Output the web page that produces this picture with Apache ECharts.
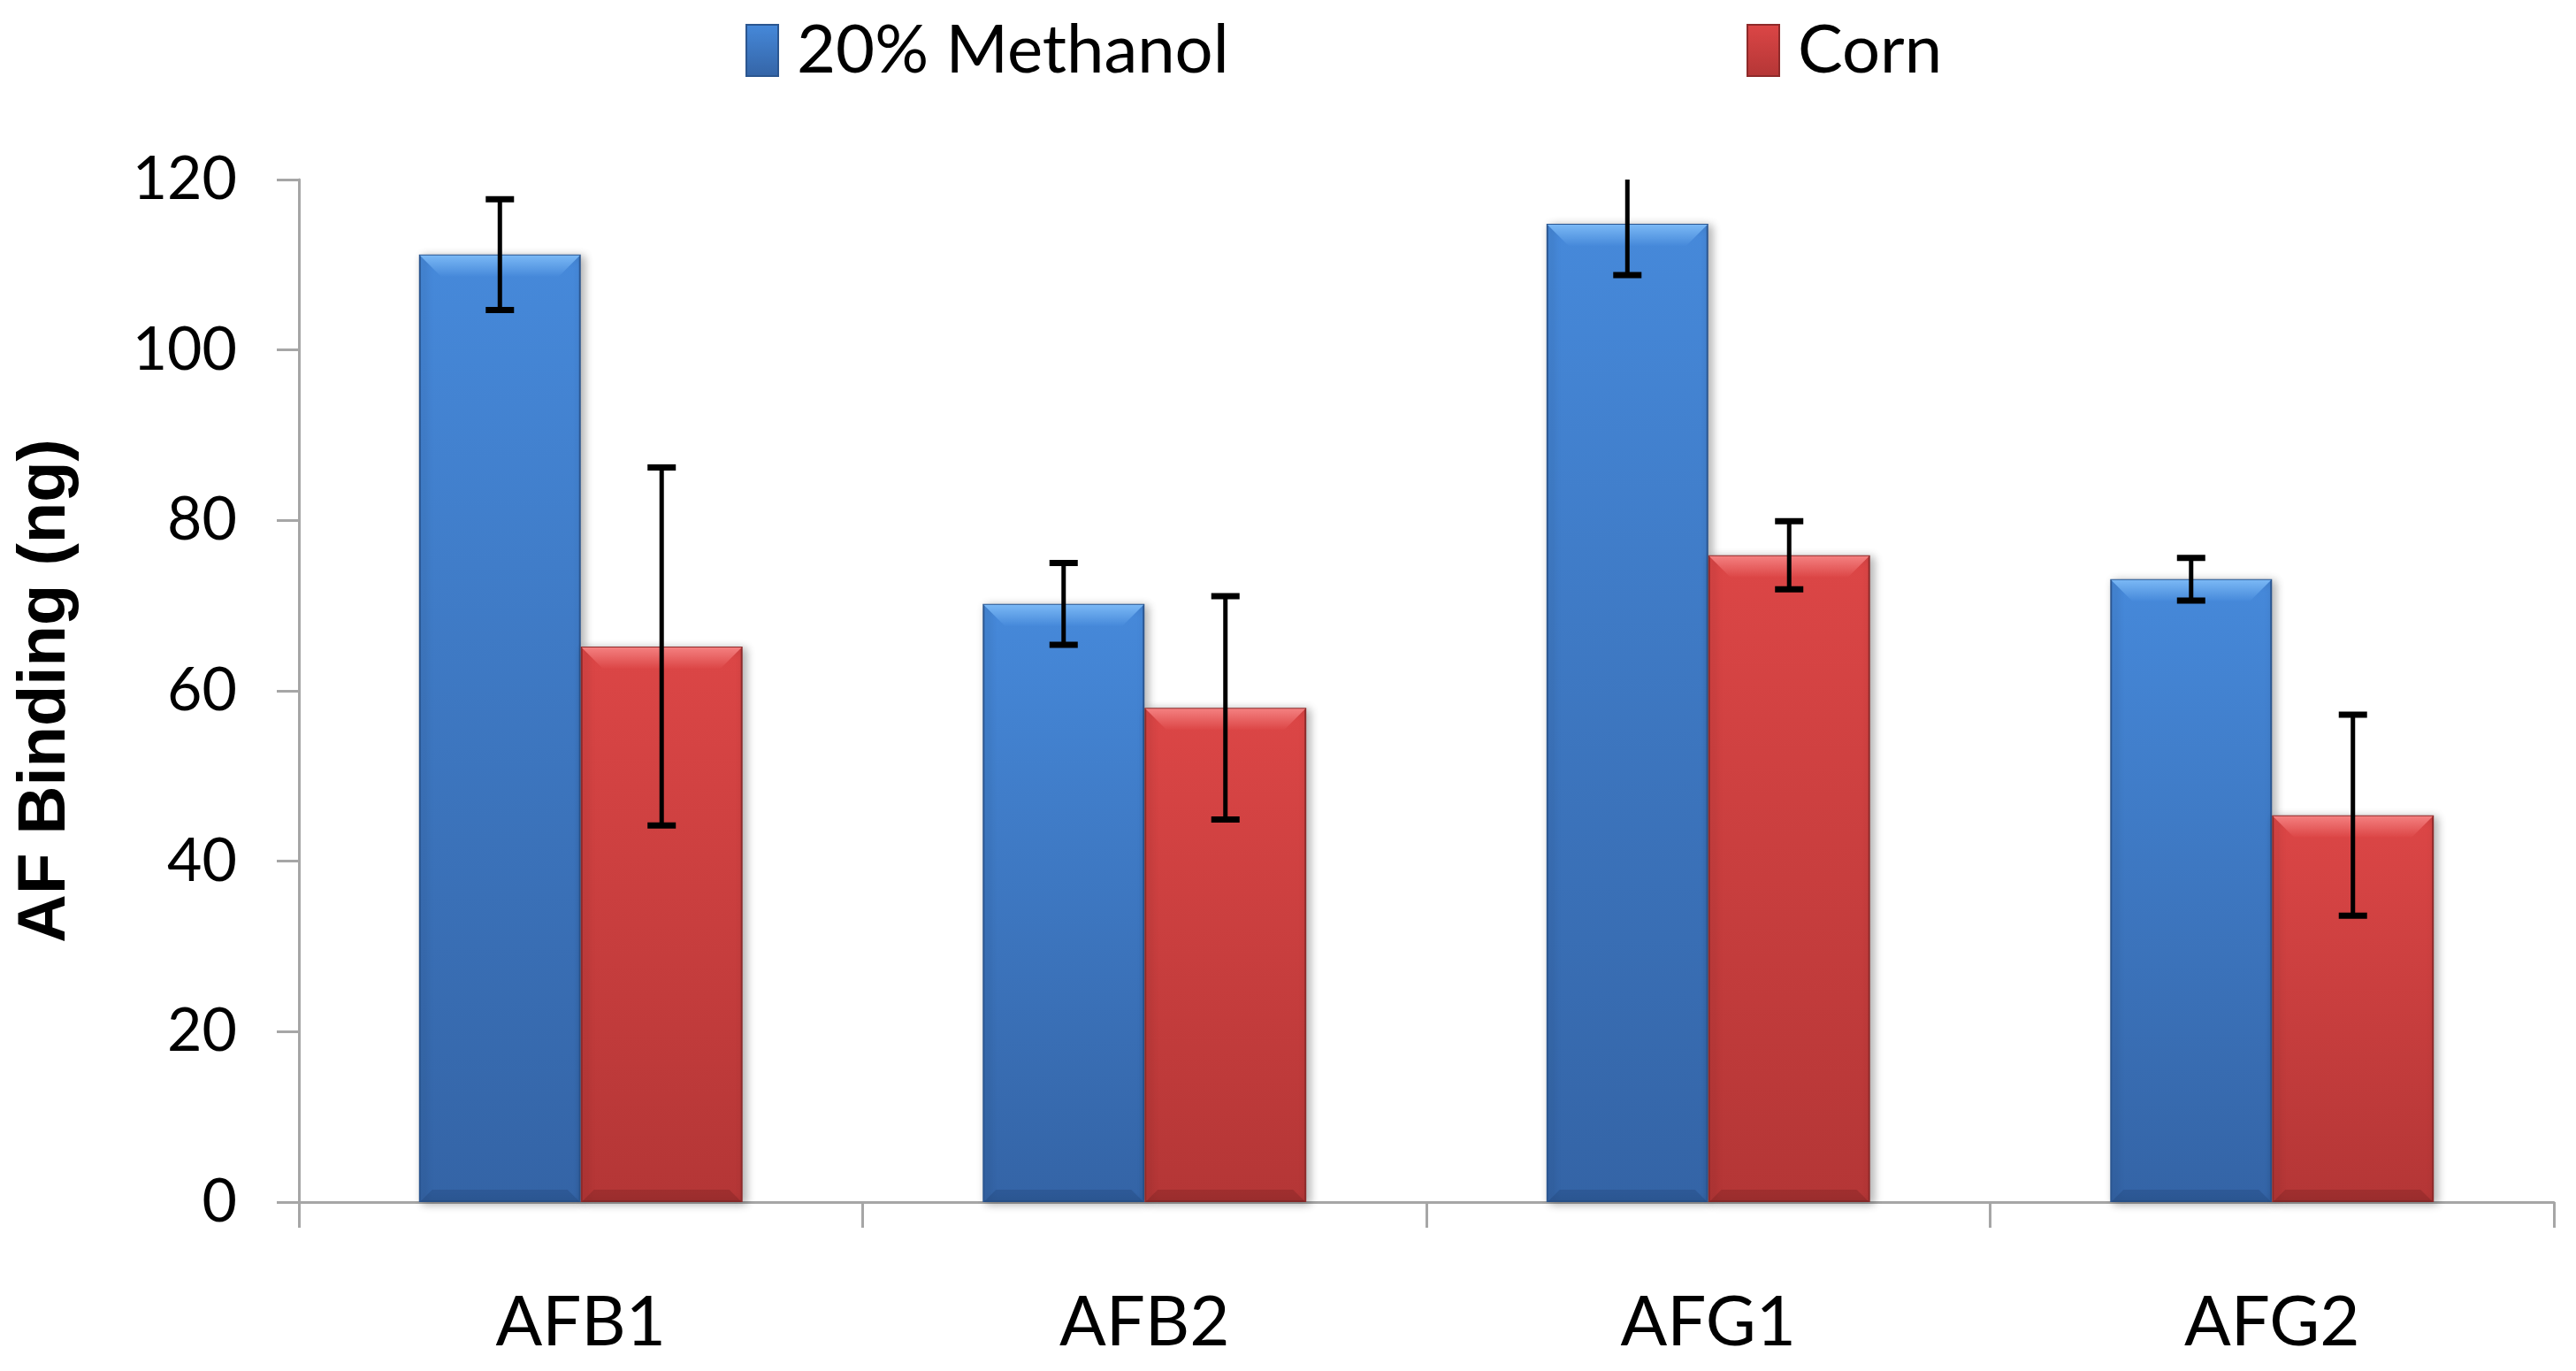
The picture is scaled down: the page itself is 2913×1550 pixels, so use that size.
<!DOCTYPE html>
<html>
<head>
<meta charset="UTF-8">
<title>AF Binding</title>
<style>
    html, body { margin: 0; padding: 0; background: #ffffff; }
    #main { width: 2913px; height: 1550px; }
</style>
</head>
<body>
<div id="main"></div>
<script src="https://cdn.jsdelivr.net/npm/echarts@6/dist/echarts.min.js"></script>
<script>
    // values
    var categories = ['AFB1', 'AFB2', 'AFG1', 'AFG2'];
    var methanol = [111.2, 70.2, 114.8, 73.1];
    var methanolErr = [6.5, 4.8, 6.0, 2.5];
    var corn = [65.2, 58.0, 75.9, 45.4];
    var cornErr = [21.0, 13.1, 4.0, 11.8];
    var yMin = 0, yMax = 120, yStep = 20;

    var catGap = 0.426;
    var G = echarts.graphic.LinearGradient;

    var blueFill = new G(0, 0, 0, 1, [
        { offset: 0, color: '#4689da' },
        { offset: 1, color: '#3464a6' }
    ]);
    var redFill = new G(0, 0, 0, 1, [
        { offset: 0, color: '#dc4646' },
        { offset: 1, color: '#b43636' }
    ]);

    // bevel at the top of each bar + error bar on top
    function overlay(values, errs, side, light, base, dark) {
        return {
            type: 'custom',
            silent: true,
            z: 5,
            renderItem: function (params, api) {
                var ci = api.value(0), v = api.value(1), e = api.value(2);
                var top = api.coord([ci, v]);
                var zero = api.coord([ci, 0]);
                var bw = api.size([1, 0])[0] * (1 - catGap) / 2;
                var cx = top[0] + side * bw / 2;
                var l = cx - bw / 2 + 1, r = cx + bw / 2 - 1, d = 24, t = top[1] + 1;
                var hiV = Math.min(v + e, yMax);
                var hi = api.coord([ci, hiV])[1];
                var lo = api.coord([ci, v - e])[1];
                var kids = [
                    {
                        type: 'polygon',
                        shape: { points: [[l, t], [r, t], [r - d, t + d], [l + d, t + d]] },
                        style: { fill: new G(0, 0, 0, 1, [{ offset: 0, color: light }, { offset: 1, color: base }]) }
                    },
                    {
                        type: 'polygon',
                        shape: { points: [[l, zero[1]], [r, zero[1]], [r - 14, zero[1] - 14], [l + 14, zero[1] - 14]] },
                        style: { fill: dark, opacity: 0.3 }
                    },
                    { type: 'line', shape: { x1: cx, y1: hi, x2: cx, y2: lo }, style: { stroke: '#000', lineWidth: 5 } },
                    { type: 'line', shape: { x1: cx - 16, y1: lo, x2: cx + 16, y2: lo }, style: { stroke: '#000', lineWidth: 7 } }
                ];
                if (v + e <= yMax) {
                    kids.push({ type: 'line', shape: { x1: cx - 16, y1: hi, x2: cx + 16, y2: hi }, style: { stroke: '#000', lineWidth: 7 } });
                }
                return { type: 'group', children: kids };
            },
            data: values.map(function (v, i) { return [i, v, errs[i]]; })
        };
    }

    var chart = echarts.init(document.getElementById('main'));
    var legendText = { fontFamily: 'Lato', fontSize: 76, color: '#000', padding: [0, 0, 0, 16] };

    chart.setOption({
        backgroundColor: '#ffffff',
        animation: false,
        legend: [
            { data: ['20% Methanol'], icon: 'rect', left: 838, top: 14, itemWidth: 36, itemHeight: 58, textStyle: legendText },
            { data: ['Corn'], icon: 'rect', left: 1970, top: 14, itemWidth: 36, itemHeight: 58, textStyle: legendText }
        ],
        grid: { left: 338, right: 25, top: 203, bottom: 191 },
        xAxis: {
            type: 'category',
            data: categories,
            axisLine: { lineStyle: { color: '#a6a6a6', width: 3 } },
            axisTick: { show: true, length: 29, lineStyle: { color: '#a6a6a6', width: 3 } },
            axisLabel: { margin: 98, fontFamily: 'Lato', fontSize: 78, color: '#000' }
        },
        yAxis: {
            type: 'value',
            min: yMin,
            max: yMax,
            interval: yStep,
            name: 'AF Binding (ng)',
            nameLocation: 'middle',
            nameGap: 248,
            nameTextStyle: { fontFamily: 'Liberation Sans', fontWeight: 'bold', fontSize: 76, color: '#000' },
            axisLine: { show: true, lineStyle: { color: '#a6a6a6', width: 3 } },
            axisTick: { show: true, length: 25, lineStyle: { color: '#a6a6a6', width: 3 } },
            axisLabel: { margin: 70, fontFamily: 'Lato', fontSize: 68, color: '#000' },
            splitLine: { show: false }
        },
        series: [
            {
                name: '20% Methanol',
                type: 'bar',
                data: methanol,
                barGap: '0%',
                barCategoryGap: (catGap * 100) + '%',
                itemStyle: {
                    color: blueFill, borderColor: '#2b5690', borderWidth: 2,
                    shadowBlur: 10, shadowOffsetX: 4, shadowOffsetY: 2, shadowColor: 'rgba(0,0,0,0.3)'
                }
            },
            {
                name: 'Corn',
                type: 'bar',
                data: corn,
                itemStyle: {
                    color: redFill, borderColor: '#8e2a2a', borderWidth: 2,
                    shadowBlur: 10, shadowOffsetX: 4, shadowOffsetY: 2, shadowColor: 'rgba(0,0,0,0.3)'
                }
            },
            overlay(methanol, methanolErr, -1, '#7ab8f5', '#4689da', '#1f3f70'),
            overlay(corn, cornErr, 1, '#f48080', '#dc4646', '#6e1e1e')
        ]
    });
</script>
</body>
</html>
